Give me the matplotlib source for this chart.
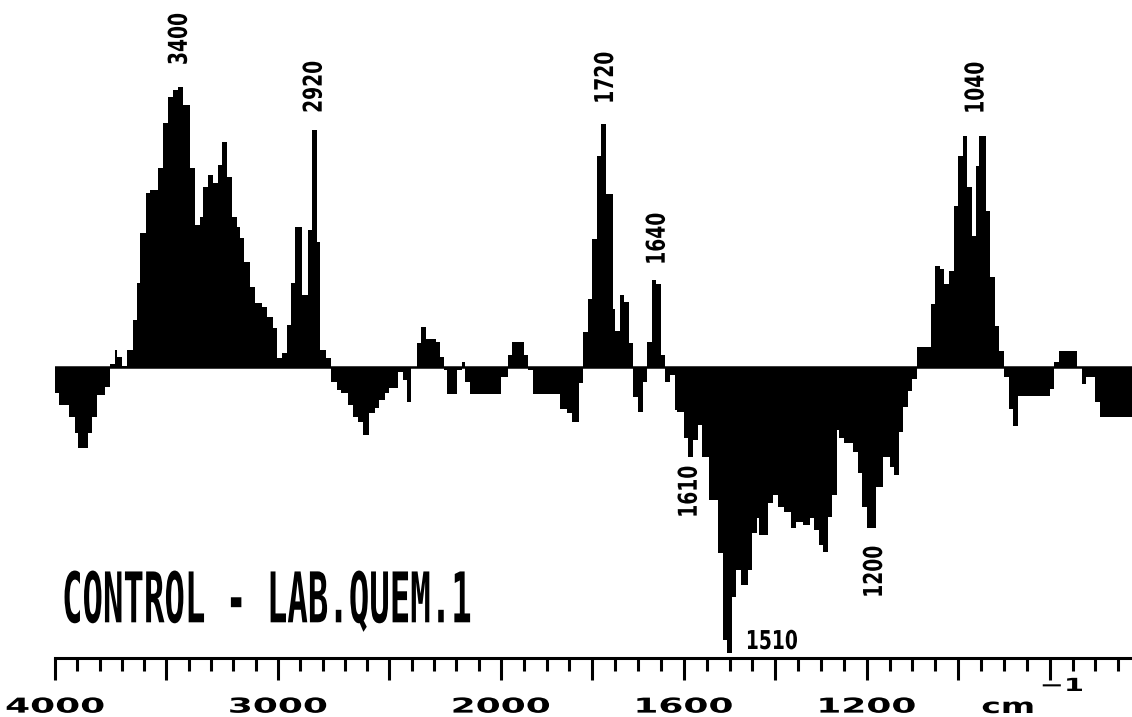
import numpy as np
import matplotlib
matplotlib.use("Agg")
import matplotlib.pyplot as plt
from matplotlib.patheffects import AbstractPathEffect
from matplotlib.transforms import Affine2D
from matplotlib.ticker import FixedLocator, FixedFormatter, NullFormatter

# ---------------- data ----------------
# step edges in cm-1 (high -> low) and difference absorbance (arbitrary units)
edges_cm = [4000, 3980, 3935, 3910, 3895, 3850, 3835, 3810, 3775, 3755,
            3730, 3720, 3700, 3675, 3650, 3630, 3620, 3590, 3575, 3540,
            3515, 3495, 3470, 3450, 3425, 3395, 3370, 3350, 3335, 3315,
            3290, 3270, 3250, 3230, 3205, 3185, 3170, 3150, 3125, 3105,
            3070, 3050, 3020, 3005, 2980, 2960, 2940, 2925, 2890, 2865,
            2845, 2825, 2810, 2785, 2760, 2735, 2715, 2685, 2665, 2640,
            2620, 2590, 2565, 2545, 2520, 2500, 2460, 2440, 2420, 2405,
            2375, 2360, 2335, 2290, 2275, 2255, 2240, 2195, 2175, 2160,
            2140, 2000, 1985, 1975, 1950, 1940, 1930, 1870, 1855, 1845,
            1830, 1820, 1810, 1800, 1790, 1780, 1770, 1755, 1750, 1740,
            1730, 1720, 1710, 1700, 1690, 1680, 1670, 1660, 1650, 1640,
            1630, 1620, 1615, 1600, 1590, 1580, 1570, 1560, 1545, 1525,
            1515, 1505, 1495, 1485, 1475, 1460, 1450, 1440, 1435, 1415,
            1405, 1395, 1380, 1365, 1355, 1340, 1325, 1315, 1305, 1295,
            1285, 1275, 1265, 1260, 1250, 1230, 1220, 1210, 1200, 1180,
            1165, 1150, 1140, 1130, 1120, 1110, 1100, 1090, 1060, 1050,
            1040, 1030, 1020, 1010, 1000, 990, 980, 970, 960, 955,
            940, 930, 920, 910, 900, 890, 880, 870, 800, 790,
            780, 740, 730, 720, 700, 690, 620]

diff_values = [-26, -38, -50, -66, -81, -66, -50, -28, -20, 3,
               17, 10, 1, 17, 47, 84, 134, 174, 177, 199,
               244, 270, 277, 280, 262, 199, 142, 150, 180, 192,
               184, 202, 225, 190, 150, 140, 129, 105, 80, 64,
               60, 50, 39, 9, 14, 42, 84, 140, 72, 137,
               237, 125, 17, 9, -15, -23, -26, -38, -50, -55,
               -68, -46, -41, -33, -26, -21, -5, -13, -35, 0,
               24, 40, 28, 25, 10, -3, -27, -3, 5, -15,
               -27, -10, 12, 25, 12, -3, -27, -42, -46, -55,
               -16, 35, 68, 128, 211, 243, 173, 58, 36, 72,
               65, 24, -30, -45, -15, 25, 87, 83, 12, -15,
               -8, -43, -45, -71, -90, -73, -58, -90, -133, -186,
               -273, -286, -230, -203, -218, -203, -166, -151, -168, -136,
               -128, -140, -145, -161, -155, -158, -151, -163, -178, -185,
               -150, -128, -63, -71, -76, -85, -106, -140, -161, -120,
               -90, -100, -108, -65, -40, -24, -12, 20, 63, 101,
               98, 83, 96, 161, 211, 231, 180, 131, 201, 231,
               156, 90, 41, 16, -10, -42, -59, -29, -22, 5,
               16, 0, -17, -10, -35, -50]

assert len(edges_cm) == len(diff_values) + 1, (len(edges_cm), len(diff_values))

peak_labels = ["3400", "2920", "1720", "1640", "1610", "1510", "1200", "1040"]
peak_label_x = [3440, 2835, 1770, 1657, 1587, 1408, 1182, 960]
peak_label_y = [328, 280, 289, 128, -125, -275, -205, 279]
peak_label_rot = [90, 90, 90, 90, 90, 0, 90, 90]

major_ticks = [4000, 3500, 3000, 2500, 2000, 1800, 1600, 1400, 1200, 1000, 800]
major_tick_labels = ["4000", "", "3000", "", "2000", "", "1600", "", "1200", "", ""]
minor_ticks = ([t for t in range(3900, 2000, -100) if t not in major_ticks] +
               [t for t in range(1950, 620, -50) if t not in major_ticks])

title_text = "CONTROL - LAB.QUEM.1"

# ---------------- helpers ----------------
K = 2.0516  # scale expansion below 2000 cm-1


def fwd(w):
    w = np.asarray(w, dtype=float)
    return np.where(w >= 2000, w, 2000 - (2000 - w) * K)


def inv(u):
    u = np.asarray(u, dtype=float)
    return np.where(u >= 2000, u, 2000 - (2000 - u) / K)


class Stretch(AbstractPathEffect):
    """Stretch glyphs about the ink centre (text stays a Text artist)."""

    def __init__(self, sx=1.0, sy=1.0):
        super().__init__()
        self.sx, self.sy = sx, sy

    def draw_path(self, renderer, gc, tpath, affine, rgbFace=None):
        ext = tpath.get_extents()
        cx = (ext.x0 + ext.x1) / 2
        cy = (ext.y0 + ext.y1) / 2
        local = Affine2D().translate(-cx, -cy).scale(self.sx, self.sy).translate(cx, cy)
        renderer.draw_path(gc, tpath, local + affine, rgbFace)


# ---------------- figure ----------------
W, H = 1132, 717
fig = plt.figure(figsize=(W / 100, H / 100), dpi=100)
fig.patch.set_facecolor("white")

ax = fig.add_axes([55 / W, 59 / H, (W - 55) / W, (H - 59) / H])
ax.set_xscale("function", functions=(fwd, inv))

e = np.array(edges_cm[::-1], dtype=float)
v = np.array(diff_values[::-1], dtype=float)
ax.stairs(v, e, baseline=0, fill=True, color="black", linewidth=0)
ax.axhline(0, color="black", lw=1.8)

ax.set_xlim(4000, 620)
ax.set_ylim(-291, 367)

for s in ["top", "right", "left"]:
    ax.spines[s].set_visible(False)
ax.spines["bottom"].set_linewidth(2.2)
ax.set_yticks([])

ax.xaxis.set_major_locator(FixedLocator(major_ticks))
ax.xaxis.set_major_formatter(FixedFormatter(major_tick_labels))
ax.xaxis.set_minor_locator(FixedLocator(minor_ticks))
ax.xaxis.set_minor_formatter(NullFormatter())
ax.tick_params(axis="x", which="major", direction="out", length=15.8, width=2.2,
               pad=12, labelsize=14.8, colors="black")
ax.tick_params(axis="x", which="minor", direction="out", length=9.4, width=2.2)
for lab in ax.get_xticklabels():
    lab.set_fontweight("bold")
    lab.set_fontfamily("DejaVu Sans")
    lab.set_path_effects([Stretch(1.75, 1.0)])

# unit label
fig.text(1008 / W, 1 - 707 / H, "cm", ha="center", va="center", fontsize=14.8,
         fontweight="bold", family="DejaVu Sans", path_effects=[Stretch(1.6, 1.0)])
fig.text(1062 / W, 1 - 686 / H, "\u22121", ha="center", va="center", fontsize=13,
         fontweight="bold", family="DejaVu Sans", path_effects=[Stretch(1.6, 1.0)])

# peak labels
for s, x, y, r in zip(peak_labels, peak_label_x, peak_label_y, peak_label_rot):
    ax.text(x, y, s, rotation=r, ha="center", va="center", fontsize=18.7,
            family="DejaVu Sans", fontweight="bold", color="black",
            path_effects=[Stretch(0.72, 1.0)])

# sample title
fig.text(267 / W, 1 - 602 / H, title_text, ha="center", va="center", fontsize=24.5,
         family="DejaVu Sans Mono", fontweight="bold", color="black",
         path_effects=[Stretch(1.0, 2.05)])

fig.savefig("out.png", dpi=100, facecolor="white")
